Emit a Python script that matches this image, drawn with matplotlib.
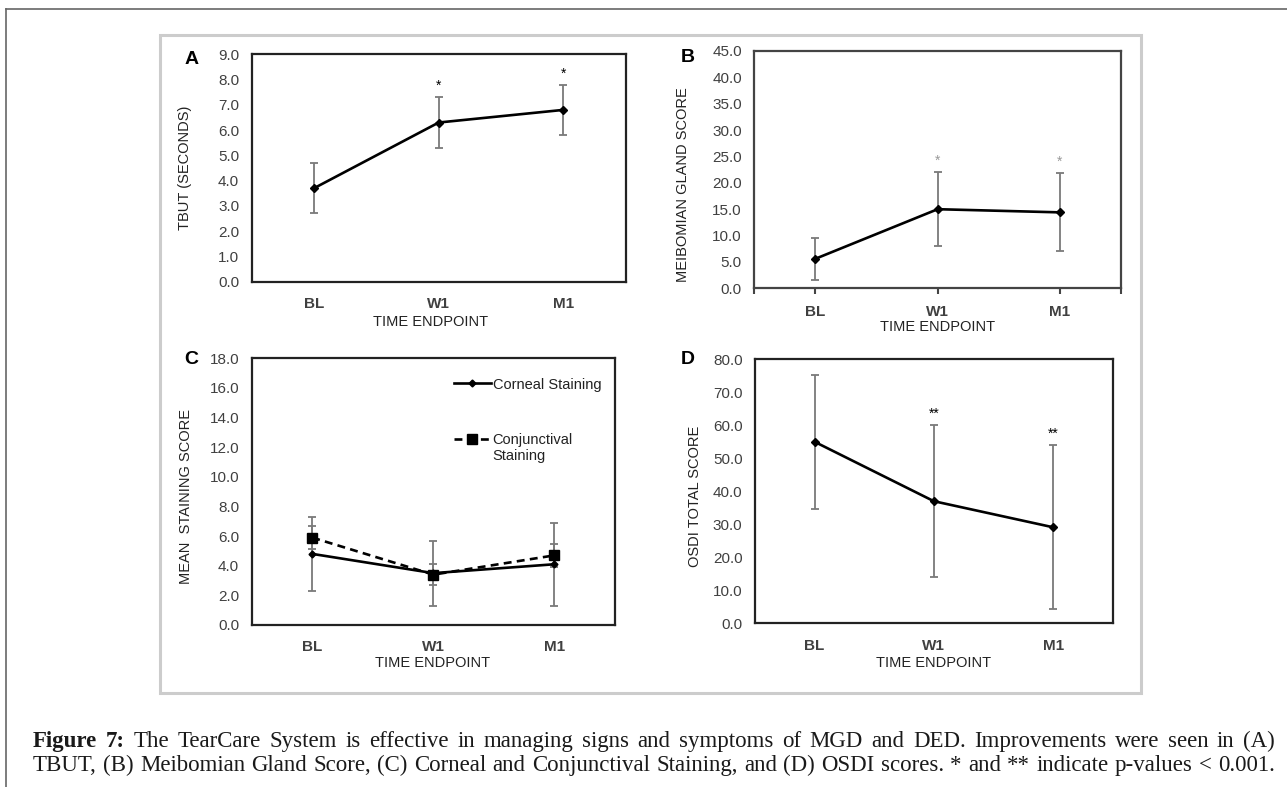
import numpy as np
import matplotlib
matplotlib.use("Agg")
import matplotlib.pyplot as plt
from matplotlib.lines import Line2D
from matplotlib.patches import Rectangle
from matplotlib.ticker import FormatStrFormatter
from matplotlib.transforms import Affine2D

plt.rcParams['font.family'] = ['Liberation Sans', 'DejaVu Sans']

W, H = 1287, 787

# data
timepoints = ["BL", "W1", "M1"]

tbut_mean = [3.7, 6.3, 6.8]
tbut_err = [1.0, 1.0, 1.0]
tbut_sig = ["", "*", "*"]

mgs_mean = [5.6, 15.0, 14.4]
mgs_err = [4.0, 7.0, 7.4]
mgs_sig = ["", "*", "*"]

corneal_mean = [4.8, 3.5, 4.1]
corneal_err = [2.5, 2.2, 2.8]
conj_mean = [5.9, 3.4, 4.7]
conj_err = [0.75, 0.7, 0.8]

osdi_mean = [55.0, 37.0, 29.1]
osdi_err = [20.3, 23.0, 24.8]
osdi_sig = ["", "**", "**"]

cap_bold = "Figure 7:"
cap_line1 = "The TearCare System is effective in managing signs and symptoms of MGD and DED.  Improvements were seen in (A)"
cap_line2 = "TBUT, (B) Meibomian Gland Score, (C) Corneal and Conjunctival Staining, and (D) OSDI scores. * and ** indicate p-values < 0.001."

TXT = '#222222'
TICK = '#404040'
ERR = '#7a7a7a'


def px_box(l, t, r, b):
    return [l / W, 1 - b / H, (r - l) / W, (b - t) / H]


def fx(x):
    return x / W


def fy(y):
    return 1 - y / H


fig = plt.figure(figsize=(W / 100, H / 100), dpi=100)

# page frame lines and grey box around the panels
fig.add_artist(Line2D([fx(6), 1], [fy(9), fy(9)], color='#666666', lw=1.2))
fig.add_artist(Line2D([fx(6), fx(6)], [fy(9), 0], color='#666666', lw=1.2))
fig.add_artist(Rectangle((fx(160), fy(692.5)), fx(1140.5) - fx(160), fy(35) - fy(692.5),
                         transform=fig.transFigure, fill=False, ec='#cccccc', lw=2.2))


def panel(rect, ymax, ystep, ylabel, letter, letter_xy, ylab_xy, xlab_xy, spine='#222222', xticks=False):
    ax = fig.add_axes(px_box(*rect))
    ax.set_xlim(-0.5, 2.5)
    ax.set_ylim(0, ymax)
    ax.set_yticks(np.arange(0, ymax + ystep / 2, ystep))
    ax.yaxis.set_major_formatter(FormatStrFormatter('%.1f'))
    if xticks:
        ax.set_xticks([-0.5, 0, 1, 2, 2.5])
        ax.set_xticklabels([""] + timepoints + [""], fontweight='bold')
        ax.tick_params(axis='x', length=4, width=1.5, color=spine, pad=8)
    else:
        ax.set_xticks(range(3))
        ax.set_xticklabels(timepoints, fontweight='bold')
        ax.tick_params(axis='x', length=0, pad=11)
    ax.tick_params(axis='y', length=0, pad=9)
    ax.tick_params(axis='both', labelsize=11, labelcolor=TICK)
    for s in ax.spines.values():
        s.set_linewidth(1.6)
        s.set_color(spine)
    fig.text(fx(letter_xy[0]), fy(letter_xy[1]), letter, fontsize=14, fontweight='bold',
             ha='center', va='center', color='black')
    fig.text(fx(ylab_xy[0]), fy(ylab_xy[1]), ylabel, fontsize=10.5, rotation=90,
             ha='center', va='center', color=TXT)
    fig.text(fx(xlab_xy[0]), fy(xlab_xy[1]), "TIME ENDPOINT", fontsize=10.5,
             ha='center', va='center', color=TXT)
    return ax


def series(ax, mean, err, marker='D', ms=4, ls='-', label=None):
    x = np.arange(len(mean))
    ax.errorbar(x, mean, yerr=err, fmt='none', ecolor=ERR, elinewidth=1.3,
                capsize=3, capthick=1.3, zorder=2)
    line, = ax.plot(x, mean, color='black', lw=1.9, ls=ls, marker=marker, ms=ms,
                    zorder=3, label=label)
    if ls == '--':
        line.set_dashes((3, 2))
    return line


def stars(ax, mean, err, sig, color='black', size=10):
    for i, (m, e, s) in enumerate(zip(mean, err, sig)):
        if s:
            ax.annotate(s, (i, m + e), xytext=(0, 3), textcoords='offset points',
                        ha='center', va='bottom', fontsize=size, color=color)


# A
axA = panel((251.7, 54.3, 625.7, 281.7), 9, 1, "TBUT (SECONDS)", "A", (191.5, 59), (185, 168), (431, 322))
series(axA, tbut_mean, tbut_err)
stars(axA, tbut_mean, tbut_err, tbut_sig)

# B
axB = panel((754.3, 51, 1121, 288.3), 45, 5, "MEIBOMIAN GLAND SCORE", "B", (688, 58), (683, 185), (937.5, 327),
            spine='#444444', xticks=True)
series(axB, mgs_mean, mgs_err)
stars(axB, mgs_mean, mgs_err, mgs_sig, color='#999999')

# C
axC = panel((251.7, 358.3, 615, 625), 18, 2, "MEAN  STAINING SCORE", "C", (191, 359), (186.5, 496), (433, 663))
h1 = series(axC, corneal_mean, corneal_err, marker='D', ms=3.5, label="Corneal Staining")
h2 = series(axC, conj_mean, conj_err, marker='s', ms=6.5, ls='--', label="Conjunctival\nStaining")
leg = axC.legend(handles=[h1, h2], loc='upper left', bbox_to_anchor=(0.557, 0.928), frameon=False,
                 fontsize=10.5, handlelength=2.5, handletextpad=0.15, labelspacing=2.2,
                 borderpad=0, borderaxespad=0, labelcolor=TXT)
# two-line label: put its first line level with the handle
t2 = leg.texts[1]
t2.set_transform(t2.get_transform() + Affine2D().translate(0, -9))

# D
axD = panel((755, 359.3, 1112.7, 623.3), 80, 10, "OSDI TOTAL SCORE", "D", (688, 360), (695, 496.5), (933.5, 663))
series(axD, osdi_mean, osdi_err)
stars(axD, osdi_mean, osdi_err, osdi_sig)

# caption, justified between x=33 and x=1275
fig.canvas.draw()
rend = fig.canvas.get_renderer()
serif = ['Liberation Serif', 'DejaVu Serif']
left, right = 33, 1275

probe = fig.text(0, 0, cap_line2, fontsize=13, family=serif)
fs = 13 * (right - left - 12) / probe.get_window_extent(rend).width
probe.remove()


def justify(words, y):
    objs = []
    for w, wt in words:
        objs.append(fig.text(0, fy(y), w, fontsize=fs, family=serif, fontweight=wt,
                             ha='left', va='baseline', color='#1a1a1a'))
    widths = [o.get_window_extent(rend).width for o in objs]
    gap = (right - left - sum(widths)) / (len(objs) - 1)
    x = left
    for o, wd in zip(objs, widths):
        o.set_x(fx(x))
        x += wd + gap


words1 = [(w, 'bold') for w in cap_bold.split()] + [(w, 'normal') for w in cap_line1.split()]
words2 = [(w, 'normal') for w in cap_line2.split()]
justify(words1, 747)
justify(words2, 771)

fig.savefig("out.png", dpi=100)
